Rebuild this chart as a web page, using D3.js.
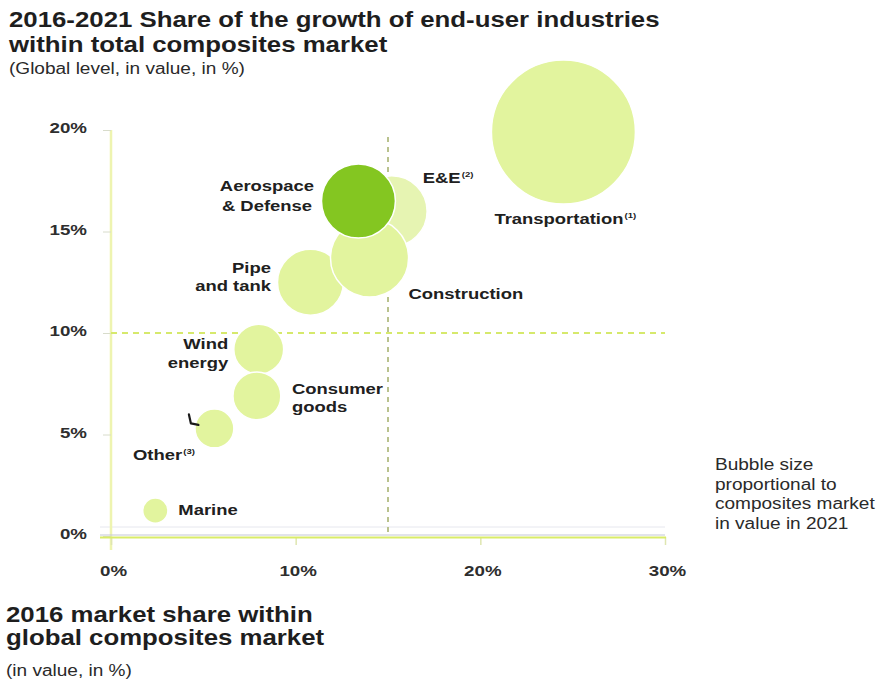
<!DOCTYPE html>
<html>
<head>
<meta charset="utf-8">
<script src="https://cdn.jsdelivr.net/npm/d3@7"></script>
<style>
  html, body { margin: 0; padding: 0; background: #ffffff; }
  svg { display: block; font-family: "Liberation Sans", Arial, Helvetica, sans-serif; }
</style>
</head>
<body>
<svg id="chart" width="880" height="688"></svg>
<script>
// End-user industries of the composites market
const categories   = ["Transportation", "Aerospace & Defense", "E&E", "Construction",
                      "Pipe and tank", "Wind energy", "Consumer goods", "Other", "Marine"];
// 2016 market share within global composites market (%)
const share2016    = [24.5, 13.4, 15.2, 14.0, 10.8, 8.0, 7.9, 5.6, 2.4];
// Share of the 2016-2021 growth (%)
const growthShare  = [19.9, 16.5, 16.0, 13.7, 12.5, 9.2, 6.9, 5.3, 1.25];
// Composites market value in 2021 (share, %) -> bubble area
const market2021   = [42.5, 11.2, 10.3, 12.5, 8.9, 5.1, 4.7, 3.1, 1.3];
// Label text (one entry per line) and footnote markers
const labelLines   = [["Transportation"], ["Aerospace", "& Defense"], ["E&E"], ["Construction"],
                      ["Pipe", "and tank"], ["Wind", "energy"], ["Consumer", "goods"], ["Other"], ["Marine"]];
const footnotes    = ["(1)", "", "(2)", "", "", "", "", "(3)", ""];
const highlighted  = ["Aerospace & Defense"];
// Axis ticks and reference lines
const xTicks = [0, 10, 20, 30];
const yTicks = [0, 5, 10, 15, 20];
const refShare2016 = 15;
const refGrowth = 10;

const titleLines  = ["2016-2021 Share of the growth of end-user industries", "within total composites market"];
const subtitle    = "(Global level, in value, in %)";
const xTitleLines = ["2016 market share within", "global composites market"];
const xSubtitle   = "(in value, in %)";
const noteLines   = ["Bubble size", "proportional to", "composites market", "in value in 2021"];

const data = categories.map((c, i) => ({
  name: c, x: share2016[i], y: growthShare[i], size: market2021[i],
  lines: labelLines[i], note: footnotes[i], dark: highlighted.includes(c)
}));

const svg = d3.select("#chart");

const x = d3.scaleLinear().domain([0, 30]).range([111, 665]);
const y = d3.scaleLinear().domain([0, 20]).range([536, 130]);
const r = d3.scaleSqrt().domain([0, d3.max(market2021)]).range([0, 72]);

// Text helper: glyphs are drawn slightly wide
function addText(parent, px, py, str, o) {
  const t = parent.append("text")
    .attr("transform", `translate(${px},${py}) scale(${o.sx || 1.19},1)`)
    .attr("text-anchor", o.anchor || "start")
    .attr("font-size", o.size)
    .attr("font-weight", o.weight || "normal")
    .attr("fill", o.fill || "#222");
  t.append("tspan").text(str);
  if (o.note) {
    t.append("tspan").attr("font-size", 8).attr("dy", -6).attr("dx", 1).text(o.note);
  }
  return t;
}

// Titles
addText(svg, 9, 27, titleLines[0], { size: 21.5, weight: "bold", sx: 1.2, fill: "#1e1e1e" });
addText(svg, 9, 52, titleLines[1], { size: 21.5, weight: "bold", sx: 1.2, fill: "#1e1e1e" });
addText(svg, 9, 74, subtitle, { size: 16, sx: 1.19, fill: "#2a2a2a" });

addText(svg, 6, 622, xTitleLines[0], { size: 21.5, weight: "bold", sx: 1.2, fill: "#1e1e1e" });
addText(svg, 6, 645, xTitleLines[1], { size: 21.5, weight: "bold", sx: 1.2, fill: "#1e1e1e" });
addText(svg, 6, 676, xSubtitle, { size: 16, sx: 1.19, fill: "#2a2a2a" });

// Bubble-size note
const noteBase = [470, 489.5, 509, 529];
noteLines.forEach((l, i) => addText(svg, 715, noteBase[i], l, { size: 16, sx: 1.19, fill: "#2a2a2a" }));

// Axis frame lines
svg.append("line").attr("x1", 100).attr("x2", 665).attr("y1", 527).attr("y2", 527)
  .attr("stroke", "#e6e7ee").attr("stroke-width", 1);
svg.append("line").attr("x1", x(0)).attr("x2", x(0)).attr("y1", y(20)).attr("y2", 550)
  .attr("stroke", "#eef4b0").attr("stroke-width", 2.5);

// Y axis
const yAxis = svg.append("g").attr("transform", `translate(${x(0)},0)`)
  .call(d3.axisLeft(y).tickValues(yTicks).tickSize(8).tickFormat(d => d + "%"));
yAxis.select(".domain").remove();
yAxis.selectAll(".tick line").attr("stroke", "#d8dccb").attr("stroke-width", 1);
yAxis.selectAll(".tick text")
  .attr("x", null).attr("dy", null).attr("y", 0)
  .attr("transform", "translate(-24,2.5) scale(1.25,1)")
  .attr("font-family", null).attr("font-size", 15).attr("font-weight", "bold")
  .attr("fill", "#2e2e2e");

// X axis
const xAxis = svg.append("g").attr("transform", `translate(0,537)`)
  .call(d3.axisBottom(x).tickValues(xTicks).tickSize(8).tickFormat(d => d + "%"));
xAxis.select(".domain").remove();
xAxis.selectAll(".tick line").attr("stroke", "#dfe6b0").attr("stroke-width", 1.5);
xAxis.selectAll(".tick text")
  .attr("y", 0).attr("dy", null)
  .attr("transform", "translate(2,39) scale(1.25,1)")
  .attr("font-family", null).attr("font-size", 15).attr("font-weight", "bold")
  .attr("fill", "#2e2e2e");

svg.append("line").attr("x1", 100).attr("x2", 665).attr("y1", 535).attr("y2", 535)
  .attr("stroke", "#c4c7d6").attr("stroke-width", 1);
svg.append("line").attr("x1", 100).attr("x2", 666).attr("y1", 537.5).attr("y2", 537.5)
  .attr("stroke", "#d9ec68").attr("stroke-width", 2);

// Reference lines
svg.append("line")
  .attr("x1", x(0)).attr("x2", x(30)).attr("y1", y(refGrowth)).attr("y2", y(refGrowth))
  .attr("stroke", "#d6e96c").attr("stroke-width", 2).attr("stroke-dasharray", "6,5");
svg.append("line")
  .attr("x1", x(refShare2016)).attr("x2", x(refShare2016)).attr("y1", 137).attr("y2", 535)
  .attr("stroke", "#b9c28e").attr("stroke-width", 2).attr("stroke-dasharray", "5,5");

// Bubbles (drawn so overlaps stack as in the layout)
const drawOrder = ["Transportation", "Wind energy", "Consumer goods", "Other", "Marine",
                   "Pipe and tank", "E&E", "Construction", "Aerospace & Defense"];
const ordered = drawOrder.map(n => data.find(d => d.name === n));
svg.append("g").selectAll("circle").data(ordered).join("circle")
  .attr("cx", d => x(d.x)).attr("cy", d => y(d.y)).attr("r", d => r(d.size))
  .attr("fill", d => d.dark ? "#84c621" : (d.name === "E&E" ? "#e6f4b2" : "#e2f49e"))
  .attr("stroke", "#ffffff").attr("stroke-width", 1.5);

// Bubble labels: offset from the bubble centre, line spacing
const labelLayout = {
  "Transportation":      { dx: -69,   dy: 92,    anchor: "start", lead: 0 },
  "Aerospace & Defense": { dx: -91.5, dy: -10.5, anchor: "middle", lead: 20.5 },
  "E&E":                 { dx: 31,    dy: -28,   anchor: "start", lead: 0 },
  "Construction":        { dx: 39,    dy: 41,    anchor: "start", lead: 0 },
  "Pipe and tank":       { dx: -39.5, dy: -9,    anchor: "end",   lead: 18 },
  "Wind energy":         { dx: -30.5, dy: 0,     anchor: "end",   lead: 18.5 },
  "Consumer goods":      { dx: 35,    dy: -2,    anchor: "start", lead: 18 },
  "Other":               { dx: -81.5, dy: 32,    anchor: "start", lead: 0 },
  "Marine":              { dx: 23,    dy: 4.5,   anchor: "start", lead: 0 }
};
const labels = svg.append("g");
data.forEach(d => {
  const L = labelLayout[d.name];
  d.lines.forEach((line, i) => {
    addText(labels, x(d.x) + L.dx, y(d.y) + L.dy + i * L.lead, line, {
      size: 15.5, weight: "bold", sx: 1.19, anchor: L.anchor, fill: "#202020",
      note: i === d.lines.length - 1 ? d.note : ""
    });
  });
});

// Small leader hook beside the "Other" bubble
const other = data.find(d => d.name === "Other");
const ox = x(other.x), oy = y(other.y);
svg.append("path")
  .attr("d", `M${ox - 25.5},${oy - 14} L${ox - 23.5},${oy - 5} L${ox - 16},${oy - 3.5}`)
  .attr("fill", "none").attr("stroke", "#1a1a1a").attr("stroke-width", 2.2)
  .attr("stroke-linecap", "round").attr("stroke-linejoin", "round");
</script>
</body>
</html>
